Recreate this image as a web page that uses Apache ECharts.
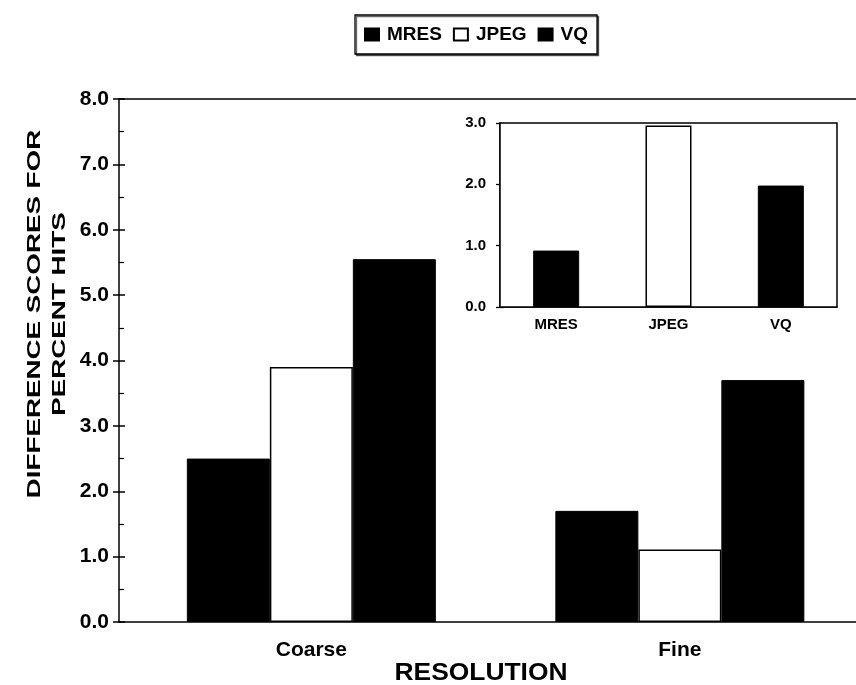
<!DOCTYPE html>
<html>
<head>
<meta charset="utf-8">
<script src="https://cdn.jsdelivr.net/npm/echarts@6/dist/echarts.min.js"></script>
<style>
html,body{margin:0;padding:0;background:#fff;}
#chart{width:856px;height:685px;}
</style>
</head>
<body>
<div id="chart"></div>
<script>
// ---- data ----
const categories = ['Coarse', 'Fine'];
const categoryPositions = [1, 2];
const seriesNames = ['MRES', 'JPEG', 'VQ'];
const mresValues = [2.50, 1.70];
const jpegValues = [3.90, 1.11];
const vqValues = [5.55, 3.70];
const insetCategories = ['MRES', 'JPEG', 'VQ'];
const insetValues = [0.92, 2.96, 1.98];
const mainTicks = [0, 1, 2, 3, 4, 5, 6, 7, 8];
const insetTicks = [0, 1, 2, 3];
const yTitleLines = ['DIFFERENCE SCORES FOR', 'PERCENT HITS'];
const xTitle = 'RESOLUTION';

// ---- styles ----
const FONT = '"Liberation Sans", Arial, sans-serif';
const blackStyle = { color: '#000', borderColor: '#000', borderWidth: 1 };
const whiteStyle = { color: '#fff', borderColor: '#000', borderWidth: 1.5 };
const styles = [blackStyle, whiteStyle, blackStyle];
const values = [mresValues, jpegValues, vqValues];
const X_MIN = 0.478, X_MAX = 2.478;

const chart = echarts.init(document.getElementById('chart'), null, { renderer: 'canvas' });

const fmt = v => v.toFixed(1);
const catFmt = v => {
  const idx = categoryPositions.indexOf(Math.round(Number(v) * 1000) / 1000);
  return idx >= 0 ? categories[idx] : '';
};
const lineStyle = { color: '#000', width: 1.5 };

const option = {
  backgroundColor: '#fff',
  animation: false,
  textStyle: { fontFamily: FONT, color: '#000' },
  legend: {
    data: seriesNames,
    left: 355,
    top: 15,
    orient: 'horizontal',
    icon: 'rect',
    itemWidth: 14,
    itemHeight: 12,
    itemGap: 11,
    padding: [10, 9, 10, 9],
    borderColor: '#000',
    borderWidth: 1.3,
    shadowColor: 'rgba(0,0,0,0.6)',
    shadowOffsetX: 1.5,
    shadowOffsetY: 1.5,
    backgroundColor: '#fff',
    textStyle: { fontFamily: FONT, fontWeight: 'bold', fontSize: 19, color: '#000', padding: [0, 0, 0, 3] },
    selectedMode: false
  },
  grid: [
    { left: 119, top: 99, right: 0, bottom: 63 },
    { left: 500, top: 123, width: 337, height: 184, show: true, borderColor: '#000', borderWidth: 1.5, backgroundColor: '#fff', z: 5 }
  ],
  xAxis: [
    {
      gridIndex: 0, type: 'value', position: 'bottom', min: X_MIN, max: X_MAX,
      axisLine: { show: true, onZero: false, lineStyle: lineStyle },
      axisTick: { show: false },
      splitLine: { show: false },
      axisLabel: {
        customValues: categoryPositions, formatter: catFmt,
        fontFamily: FONT, fontWeight: 'bold', fontSize: 21, color: '#000', margin: 18
      }
    },
    {
      gridIndex: 0, type: 'value', position: 'top', min: X_MIN, max: X_MAX,
      axisLine: { show: true, onZero: false, lineStyle: lineStyle },
      axisTick: { show: false }, axisLabel: { show: false }, splitLine: { show: false }
    },
    {
      gridIndex: 1, type: 'category', data: insetCategories,
      axisLine: { show: true, lineStyle: lineStyle }, axisTick: { show: false },
      axisLabel: { fontFamily: FONT, fontWeight: 'bold', fontSize: 15, color: '#000', margin: 10 }
    }
  ],
  yAxis: [
    {
      gridIndex: 0, type: 'value', position: 'left', min: mainTicks[0], max: mainTicks[mainTicks.length - 1], interval: 1,
      axisLine: { show: true, onZero: false, lineStyle: lineStyle },
      axisTick: { show: true, inside: false, length: 6, lineStyle: lineStyle },
      axisLabel: { fontFamily: FONT, fontWeight: 'bold', fontSize: 21, color: '#000', margin: 10, formatter: fmt },
      splitLine: { show: false }
    },
    {
      gridIndex: 0, type: 'value', position: 'left', min: mainTicks[0], max: mainTicks[mainTicks.length - 1], interval: 1,
      axisLine: { show: false },
      axisTick: { show: true, inside: true, length: 6, lineStyle: lineStyle },
      minorTick: { show: true, splitNumber: 2, length: 5, lineStyle: { color: '#000', width: 1.2 } },
      axisLabel: { show: false },
      splitLine: { show: false }
    },
    {
      gridIndex: 1, type: 'value', position: 'left', min: insetTicks[0], max: insetTicks[insetTicks.length - 1], interval: 1,
      axisLine: { show: true, lineStyle: lineStyle },
      axisTick: { show: true, inside: false, length: 4, lineStyle: { color: '#000', width: 1.3 } },
      axisLabel: { fontFamily: FONT, fontWeight: 'bold', fontSize: 15, color: '#000', margin: 14, formatter: fmt },
      splitLine: { show: false }
    },
    {
      gridIndex: 1, type: 'value', position: 'left', min: insetTicks[0], max: insetTicks[insetTicks.length - 1], interval: 1,
      axisLine: { show: false },
      axisTick: { show: true, inside: true, length: 4, lineStyle: { color: '#000', width: 1.3 } },
      minorTick: { show: true, splitNumber: 2, length: 4, lineStyle: { color: '#000', width: 1.2 } },
      axisLabel: { show: false },
      splitLine: { show: false }
    }
  ],
  graphic: [
    {
      type: 'text', x: 47, y: 314, rotation: Math.PI / 2, scaleX: 1.46,
      style: {
        text: yTitleLines.join('\n'), font: 'bold 19px ' + FONT, fill: '#000',
        align: 'center', verticalAlign: 'middle', textAlign: 'center', textVerticalAlign: 'middle', lineHeight: 25
      }
    },
    {
      type: 'text', x: 481, y: 673, scaleX: 1.1,
      style: {
        text: xTitle, font: 'bold 24px ' + FONT, fill: '#000',
        align: 'center', verticalAlign: 'middle', textAlign: 'center', textVerticalAlign: 'middle'
      }
    }
  ],
  series: seriesNames.map((name, i) => ({
    name: name, type: 'bar', xAxisIndex: 0, yAxisIndex: 0,
    data: categoryPositions.map((p, j) => [p, values[i][j]]),
    barWidth: 83, barGap: '0%',
    itemStyle: styles[i]
  })).concat([{
    name: 'inset', type: 'bar', xAxisIndex: 2, yAxisIndex: 2, z: 6,
    barWidth: 46,
    data: insetValues.map((v, i) => ({ value: v, itemStyle: styles[i] }))
  }])
};

chart.setOption(option);
</script>
</body>
</html>
